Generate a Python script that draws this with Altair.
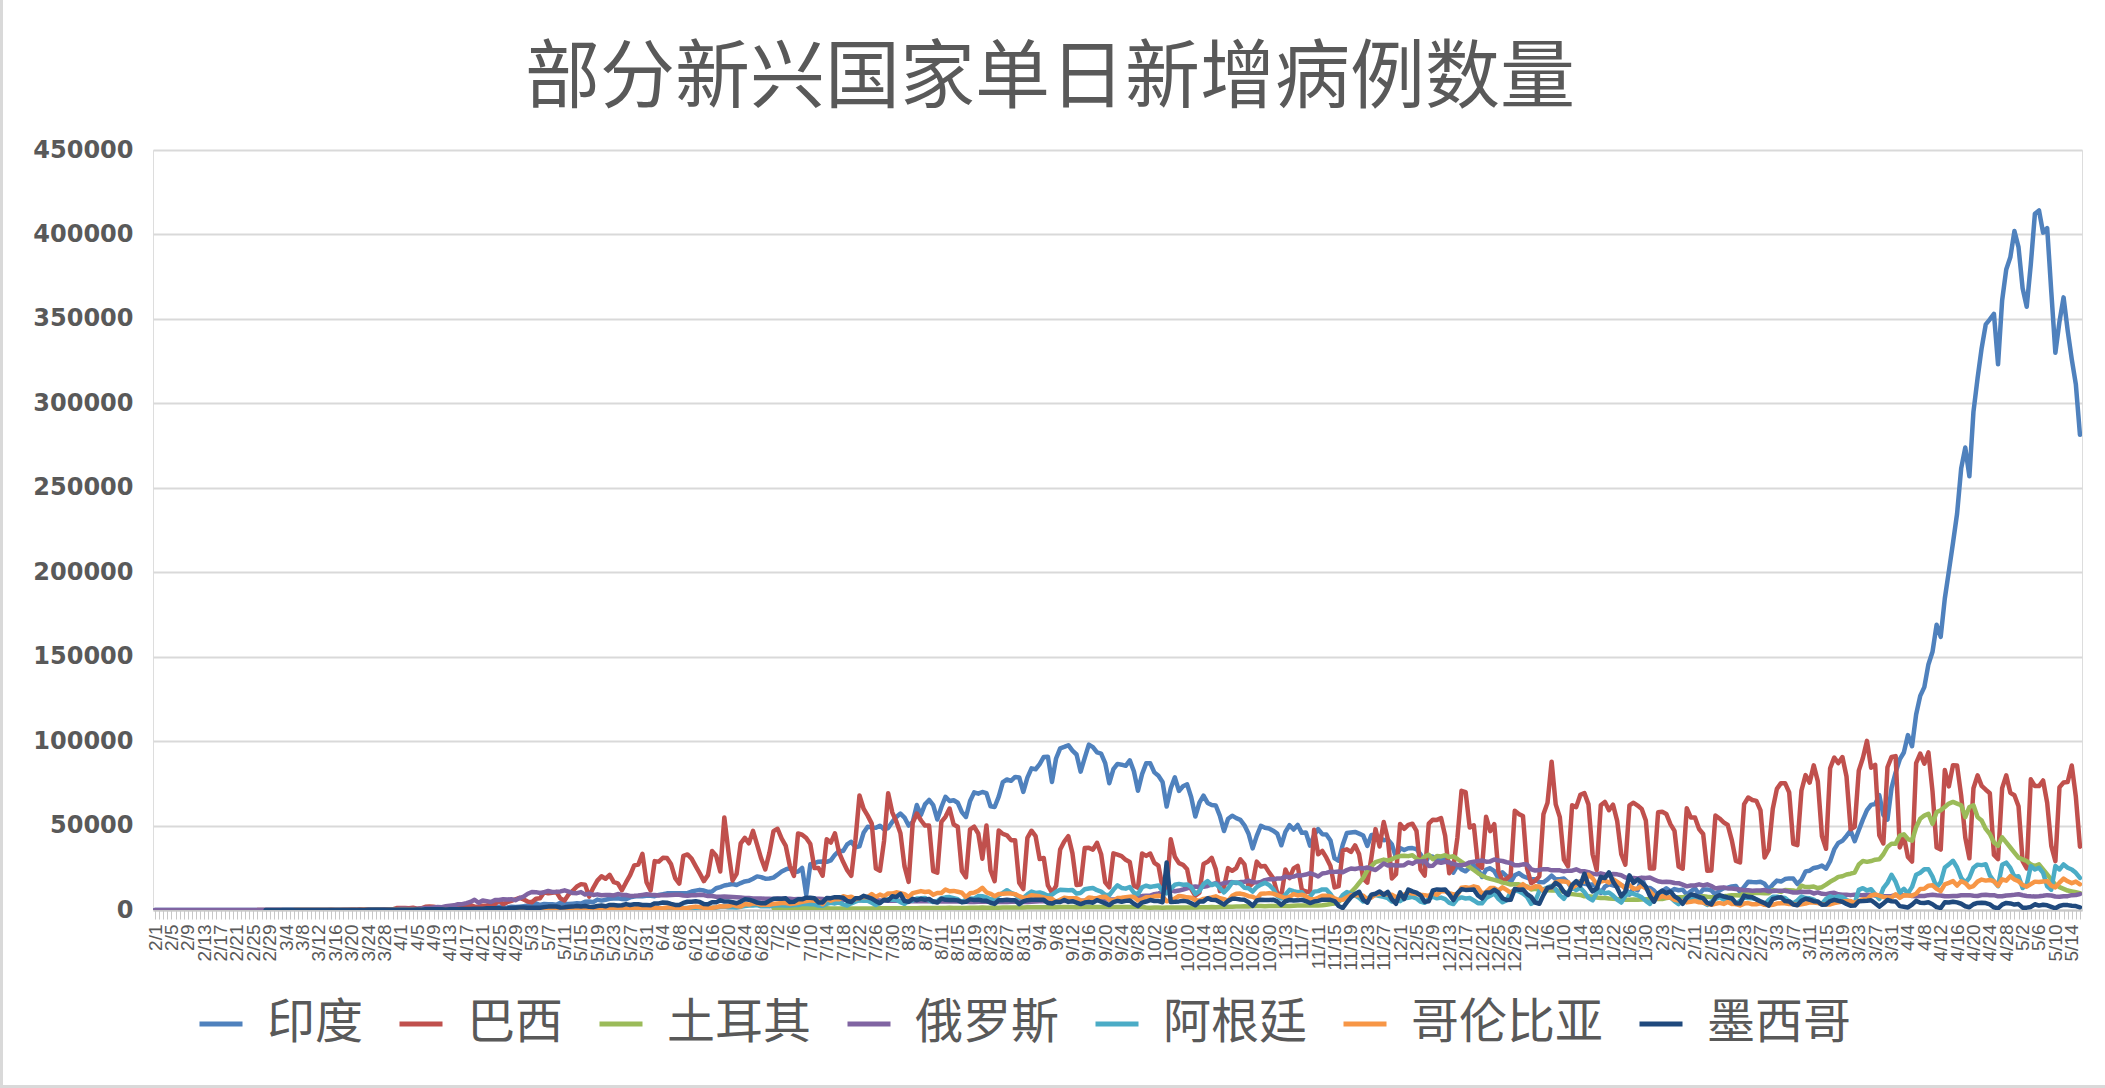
import json
import datetime
import altair as alt
import pandas as pd

# ---------------- data (daily new cases, in thousands) ----------------
# months: 2020-02 .. 2021-05 (May 2021 ends on the 16th); None = series not yet reported
month_lengths = [29, 31, 30, 31, 30, 31, 31, 30, 31, 30, 31, 31, 28, 31, 30, 16]

title_text = "部分新兴国家单日新增病例数量"
countries = ["印度", "巴西", "土耳其", "俄罗斯", "阿根廷", "哥伦比亚", "墨西哥"]
colors = ["#4F81BD", "#C0504D", "#9BBB59", "#8064A2", "#4BACC6", "#F79646", "#1F497D"]

y_ticks = [0, 50000, 100000, 150000, 200000, 250000, 300000, 350000, 400000, 450000]

N = None

india = [
    [0, 0, 0, 0, 0, 0, 0, 0, 0, 0, 0, 0, 0, 0, 0, 0, 0, 0, 0, 0, 0, 0, 0, 0, 0, 0, 0, 0, 0],
    [0, 0, 0.001, 0.001, 0.022, 0.001, 0.003, 0.005, 0.004, 0.019, 0.002, 0.011, 0.007, 0.01, 0.017, 0.004, 0.023, 0.02, 0.023, 0.055, 0.05, 0.074, 0.086, 0.073, 0.086, 0.088, 0.075, 0.15, 0.109, 0.227, 0.146],
    [0.601, 0.545, 0.624, 0.524, 0.489, 0.693, 0.354, 0.773, 0.54, 0.9, 0.909, 0.796, 0.905, 1.463, 1.108, 0.826, 1.076, 1.007, 1.553, 1.336, 1.383, 1.409, 1.684, 1.429, 1.99, 1.396, 1.543, 1.897, 1.718, 1.993],
    [2.293, 2.644, 2.806, 3.932, 2.963, 3.587, 3.364, 3.344, 3.113, 4.353, 3.607, 3.524, 3.763, 3.942, 3.787, 4.864, 5.05, 4.63, 6.147, 5.553, 6.088, 6.654, 6.767, 6.977, 6.535, 6.387, 7.466, 7.964, 8.336, 8.171, 8.392],
    [8.392, 8.171, 8.909, 9.304, 9.851, 9.887, 9.971, 9.983, 9.987, 9.985, 10.956, 11.458, 11.929, 11.502, 10.667, 10.974, 12.881, 13.586, 14.516, 14.933, 15.413, 14.821, 15.968, 16.922, 17.296, 18.552, 19.906, 19.459, 18.522, 18.653],
    [19.148, 20.903, 22.771, 24.015, 24.85, 22.252, 22.752, 24.879, 9.0, 27.114, 27.755, 28.637, 28.701, 28.498, 29.429, 32.695, 34.956, 34.884, 38.902, 40.425, 37.148, 37.724, 45.72, 49.31, 48.916, 48.661, 49.931, 47.704, 48.513, 52.123, 55.079],
    [57.118, 54.735, 50.0, 52.05, 62.17, 56.282, 62.538, 65.156, 62.064, 53.601, 60.963, 67.066, 64.553, 65.002, 63.489, 57.982, 55.079, 64.531, 69.652, 68.898, 69.878, 69.239, 61.408, 60.975, 67.151, 75.76, 77.266, 76.472, 78.761, 78.512, 69.921],
    [78.357, 83.883, 83.341, 86.432, 90.632, 90.802, 75.809, 89.706, 95.735, 96.551, 97.57, 94.372, 92.071, 81.911, 90.123, 97.894, 96.424, 93.337, 92.605, 86.961, 75.083, 83.347, 86.508, 86.052, 85.362, 88.6, 82.17, 70.589, 80.472, 86.821],
    [86.821, 81.484, 79.476, 75.829, 61.267, 72.049, 78.524, 70.496, 73.272, 74.383, 66.732, 55.342, 63.509, 67.708, 63.371, 62.212, 61.871, 55.722, 46.79, 54.044, 55.839, 54.366, 53.37, 50.129, 45.149, 36.469, 43.893, 49.881, 48.648, 48.268, 46.963],
    [45.231, 38.31, 46.253, 50.21, 47.638, 50.357, 45.674, 45.903, 38.073, 44.281, 47.905, 44.879, 44.684, 41.1, 30.548, 29.163, 38.617, 45.576, 45.882, 46.232, 45.209, 44.059, 37.975, 44.376, 44.489, 43.082, 41.322, 41.81, 38.772, 31.118],
    [36.604, 35.551, 36.595, 36.652, 36.011, 32.981, 26.567, 32.08, 31.521, 29.398, 30.006, 30.254, 27.071, 22.065, 26.382, 24.01, 22.89, 25.152, 26.624, 24.337, 19.556, 23.95, 24.712, 23.068, 18.732, 22.273, 20.021, 16.432, 20.55, 21.822, 20.036],
    [19.078, 18.177, 18.177, 16.505, 16.375, 18.088, 20.346, 18.139, 18.222, 18.645, 16.311, 12.584, 15.968, 16.946, 15.59, 15.158, 15.144, 13.788, 10.064, 13.823, 15.223, 14.545, 14.256, 14.849, 13.203, 9.102, 12.689, 11.666, 18.855, 13.083, 13.052],
    [11.427, 8.635, 11.039, 12.899, 11.024, 12.408, 11.713, 12.059, 9.11, 11.067, 12.923, 9.309, 12.143, 12.194, 11.649, 9.121, 11.61, 12.881, 13.193, 13.993, 14.264, 10.584, 13.742, 16.738, 16.577, 16.488, 16.752, 15.51],
    [12.286, 14.989, 17.407, 16.838, 18.327, 18.711, 18.599, 15.388, 17.921, 22.854, 23.285, 24.882, 25.32, 26.291, 24.492, 28.903, 35.871, 39.726, 40.953, 43.846, 46.951, 40.715, 47.262, 53.476, 59.118, 62.258, 62.714, 68.02, 56.211, 53.48, 72.33],
    [81.466, 89.129, 93.249, 103.558, 96.982, 115.736, 126.789, 131.968, 145.384, 152.879, 168.912, 161.736, 184.372, 200.739, 217.353, 234.692, 261.5, 273.81, 256.828, 295.041, 314.835, 332.73, 346.786, 349.691, 352.991, 323.144, 360.96, 379.257, 386.452, 401.993],
    [392.488, 368.147, 357.229, 382.315, 412.262, 414.188, 401.078, 403.738, 366.161, 329.942, 348.421, 362.727, 343.144, 326.098, 311.17, 281.386],
]

brazil = [
    [N, N, N, N, N, N, N, N, N, N, N, N, N, N, N, N, N, N, N, N, N, N, N, N, N, 0.001, 0, 0, 0.001],
    [0.001, 0, 0, 0.001, 0.005, 0.005, 0.006, 0.006, 0.0, 0.009, 0.018, 0.025, 0.021, 0.023, 0.079, 0.034, 0.057, 0.137, 0.193, 0.283, 0.224, 0.418, 0.345, 0.31, 0.232, 0.482, 0.502, 0.487, 0.352, 0.323, 1.138],
    [1.119, 1.208, 1.012, 1.304, 0.77, 1.031, 1.873, 2.136, 1.922, 1.546, 1.089, 1.465, 1.238, 1.832, 3.058, 2.105, 3.257, 2.976, 1.996, 1.927, 2.498, 2.678, 3.735, 3.503, 5.514, 3.379, 4.613, 5.385, 6.276, 7.218],
    [6.209, 4.97, 4.588, 6.633, 6.935, 10.503, 9.888, 10.222, 10.611, 6.76, 5.632, 9.258, 11.385, 13.944, 15.305, 14.919, 7.938, 13.14, 17.408, 19.951, 18.508, 20.803, 16.508, 15.813, 11.687, 16.324, 20.599, 26.417, 26.928, 33.274, 16.409],
    [11.598, 28.936, 28.633, 30.925, 30.83, 27.075, 18.912, 15.654, 32.091, 32.913, 30.412, 25.982, 21.704, 17.11, 20.647, 34.918, 32.188, 22.765, 54.771, 34.666, 17.459, 21.432, 39.436, 42.725, 39.483, 46.86, 38.693, 30.476, 24.052, 33.846],
    [46.712, 48.105, 42.223, 37.923, 26.051, 20.229, 45.305, 44.571, 42.619, 39.023, 24.831, 24.831, 20.286, 41.857, 39.924, 45.403, 34.177, 28.532, 23.529, 20.257, 41.008, 67.86, 59.961, 55.891, 51.147, 24.578, 23.284, 40.816, 69.074, 57.837, 52.383],
    [45.392, 25.8, 16.641, 51.603, 57.152, 53.139, 49.97, 49.97, 23.01, 22.048, 52.16, 55.155, 60.091, 50.644, 49.274, 23.101, 19.373, 47.784, 49.298, 45.323, 30.355, 50.032, 23.421, 17.078, 47.134, 45.079, 44.235, 41.35, 41.35, 16.158, 12.369],
    [42.659, 46.934, 43.773, 30.168, 30.754, 14.521, 10.273, 14.279, 35.816, 40.557, 43.718, 33.523, 14.768, 15.155, 36.653, 36.82, 35.757, 39.797, 33.057, 16.389, 13.439, 33.536, 32.817, 31.911, 29.716, 28.378, 14.318, 13.155, 33.413, 32.058],
    [33.413, 27.95, 26.31, 13.11, 11.946, 41.906, 31.553, 27.75, 26.749, 24.062, 12.342, 8.426, 10.22, 27.235, 28.523, 30.914, 24.062, 11.203, 13.345, 24.818, 23.227, 24.858, 30.026, 26.979, 13.493, 15.726, 28.629, 25.718, 26.101, 22.282, 18.947],
    [10.1, 8.501, 23.976, 18.862, 24.6, 26.1, 12.0, 10.917, 10.554, 47.5, 33.0, 35.0, 31.0, 26.0, 13.371, 14.134, 35.294, 35.918, 34.361, 38.307, 33.0, 18.615, 16.207, 31.1, 47.898, 37.614, 52.1, 42.0, 18.615, 21.138],
    [50.909, 48.025, 50.434, 51.088, 46.884, 24.0, 20.371, 51.088, 53.453, 53.347, 54.428, 43.9, 21.825, 25.193, 42.889, 70.574, 69.826, 48.884, 50.177, 27.0, 25.019, 55.202, 46.696, 50.834, 22.967, 17.341, 18.479, 20.548, 58.718, 56.773, 55.649],
    [24.605, 15.827, 17.341, 20.006, 56.648, 63.504, 87.843, 62.532, 55.0, 29.792, 25.822, 61.963, 60.899, 68.138, 69.198, 62.532, 33.04, 23.671, 62.0, 64.025, 59.119, 62.334, 52.797, 33.04, 26.816, 61.963, 63.52, 61.811, 59.826, 52.979, 24.591],
    [24.591, 57.848, 58.202, 56.873, 50.872, 46.884, 25.759, 24.434, 60.301, 54.742, 54.794, 47.962, 45.003, 23.218, 23.439, 55.993, 54.195, 51.879, 50.335, 41.219, 29.026, 28.147, 62.715, 66.588, 65.169, 64.588, 58.931, 31.11],
    [35.742, 59.925, 71.704, 75.102, 75.102, 69.609, 39.127, 38.396, 70.764, 79.876, 75.412, 85.663, 76.178, 43.812, 36.239, 83.926, 90.303, 86.982, 90.57, 79.069, 47.774, 49.293, 82.493, 89.992, 100.158, 84.245, 85.948, 44.326, 39.433, 84.494, 90.638],
    [91.097, 37.017, 43.515, 31.359, 28.645, 86.979, 92.625, 86.652, 93.317, 70.238, 37.017, 35.785, 82.869, 73.174, 85.774, 85.536, 67.636, 42.937, 30.624, 72.115, 79.719, 73.53, 71.235, 69.105, 32.572, 30.167, 72.148, 79.726, 69.389, 67.936],
    [61.474, 28.935, 24.619, 77.359, 73.38, 73.38, 76.692, 63.43, 37.948, 28.935, 72.715, 75.445, 75.809, 85.536, 67.009, 37.498],
]

turkey = [
    [N, N, N, N, N, N, N, N, N, N, N, N, N, N, N, N, N, N, N, N, N, N, N, N, N, N, N, N, N],
    [N, N, N, N, N, N, N, N, N, N, N, N, N, N, N, N, N, N, N, N, N, N, N, N, N, N, N, N, N, N, N],
    [N, N, N, N, N, N, N, N, N, N, N, N, N, N, N, N, N, N, N, N, N, N, N, N, N, N, N, N, N, N],
    [N, N, N, N, N, N, N, N, N, N, N, N, N, N, N, N, N, N, N, N, N, N, N, N, N, N, N, N, N, N, N],
    [N, N, N, N, N, N, N, N, N, N, N, N, N, N, N, N, N, N, N, N, N, N, N, N, N, N, N, N, N, N],
    [1.217, 1.172, 1.187, 1.224, 1.148, 1.086, 1.041, 1.053, 1.024, 1.016, 1.008, 0.995, 0.992, 0.963, 0.933, 0.926, 0.933, 0.919, 0.917, 0.918, 0.924, 0.929, 0.952, 0.935, 0.955, 0.963, 0.981, 1.006, 0.971, 0.967, 0.987],
    [0.993, 0.972, 0.983, 0.995, 1.083, 1.117, 1.178, 1.192, 1.183, 1.212, 1.243, 1.256, 1.263, 1.234, 1.226, 1.218, 1.191, 1.298, 1.263, 1.311, 1.412, 1.262, 1.309, 1.309, 1.366, 1.502, 1.517, 1.494, 1.509, 1.518, 1.549],
    [1.596, 1.572, 1.596, 1.637, 1.671, 1.643, 1.657, 1.698, 1.745, 1.751, 1.743, 1.754, 1.641, 1.716, 1.743, 1.742, 1.771, 1.786, 1.761, 1.794, 1.766, 1.767, 1.821, 1.795, 1.769, 1.746, 1.772, 1.771, 1.764, 1.494],
    [1.391, 1.412, 1.473, 1.392, 1.417, 1.475, 1.487, 1.522, 1.502, 1.546, 1.488, 1.548, 1.563, 1.582, 1.626, 1.704, 1.698, 1.743, 1.814, 1.852, 1.887, 2.021, 2.042, 2.165, 2.137, 2.198, 2.314, 2.343, 2.227, 2.311, 2.304],
    [2.44, 2.343, 2.391, 2.416, 2.534, 2.62, 2.638, 2.611, 2.673, 2.715, 2.731, 2.789, 3.156, 3.565, 3.857, 4.8, 7.0, 9.0, 10.5, 13.0, 16.0, 19.0, 23.5, 26.0, 28.351, 29.132, 29.845, 29.281, 30.103, 31.219],
    [31.923, 32.137, 31.896, 32.381, 30.424, 29.132, 31.6, 32.736, 30.103, 32.01, 31.7, 32.4, 31.3, 31.8, 30.2, 28.5, 26.9, 25.4, 23.7, 21.9, 20.3, 19.2, 18.4, 17.8, 17.2, 16.2, 15.8, 15.1, 15.3, 15.2, 14.5],
    [14.0, 12.2, 12.5, 11.9, 11.7, 11.7, 11.6, 11.6, 11.2, 10.9, 9.5, 9.4, 9.1, 8.9, 8.1, 8.2, 7.9, 7.4, 7.1, 7.1, 6.8, 6.7, 6.5, 6.4, 6.1, 6.0, 6.2, 6.0, 6.2, 6.3, 6.4],
    [6.2, 6.6, 6.5, 7.1, 7.4, 7.4, 7.5, 7.6, 7.8, 7.6, 7.7, 7.9, 8.2, 7.8, 7.6, 7.7, 8.0, 8.2, 8.4, 8.8, 8.7, 8.6, 9.9, 9.9, 10.0, 10.0, 10.0, 9.9],
    [9.9, 11.8, 11.3, 10.7, 11.8, 11.7, 11.6, 11.0, 14.4, 13.6, 13.6, 13.9, 13.0, 13.5, 15.0, 16.7, 18.0, 19.6, 20.0, 21.0, 21.5, 22.2, 27.0, 29.0, 28.5, 29.0, 29.8, 30.0, 33.0, 37.3, 39.3],
    [39.3, 44.0, 44.8, 42.0, 41.0, 49.0, 54.0, 55.9, 57.0, 51.0, 58.0, 59.0, 61.0, 63.0, 64.0, 63.0, 62.0, 55.0, 61.0, 62.0, 55.0, 53.0, 48.0, 45.0, 40.0, 38.0, 43.0, 40.0, 37.0, 34.0],
    [31.0, 30.0, 29.0, 27.0, 26.0, 27.0, 24.0, 21.0, 18.0, 15.0, 13.5, 12.5, 11.5, 11.0, 10.5, 10.0],
]

russia = [
    [0, 0, 0, 0, 0, 0, 0, 0, 0, 0, 0, 0, 0, 0, 0, 0, 0, 0, 0, 0, 0, 0, 0, 0, 0, 0, 0, 0, 0],
    [0, 0, 0.001, 0, 0.001, 0.006, 0, 0.003, 0.0, 0.003, 0.008, 0.006, 0.014, 0.011, 0.004, 0.029, 0.021, 0.033, 0.052, 0.054, 0.053, 0.061, 0.071, 0.057, 0.163, 0.182, 0.196, 0.228, 0.27, 0.302, 0.5],
    [0.771, 0.771, 0.601, 0.582, 0.658, 0.954, 1.154, 1.175, 1.459, 1.786, 1.667, 2.186, 2.558, 2.774, 3.388, 3.448, 4.07, 4.785, 6.06, 4.268, 5.642, 5.236, 4.774, 5.849, 5.966, 6.361, 6.198, 6.411, 5.841, 7.099],
    [7.933, 9.623, 10.633, 10.581, 10.102, 10.559, 11.231, 10.699, 10.817, 11.012, 11.656, 10.899, 10.028, 9.974, 10.598, 9.2, 9.709, 8.926, 9.263, 8.764, 8.849, 8.894, 8.599, 9.434, 8.946, 8.915, 8.338, 8.371, 8.572, 8.952, 9.268],
    [9.035, 8.863, 8.536, 8.831, 8.726, 8.855, 8.984, 8.985, 8.595, 8.404, 8.779, 8.706, 8.987, 8.835, 8.246, 8.248, 7.843, 7.79, 7.972, 7.889, 7.728, 7.6, 7.425, 7.176, 7.113, 6.8, 6.852, 6.791, 6.693, 6.719],
    [6.556, 6.76, 6.718, 6.736, 6.611, 6.368, 6.562, 6.509, 6.635, 6.635, 6.611, 6.615, 6.537, 6.248, 6.422, 6.428, 6.406, 6.109, 6.17, 6.065, 5.842, 5.862, 5.811, 5.848, 5.871, 5.765, 5.635, 5.475, 5.509, 5.482, 5.462],
    [5.427, 5.462, 5.159, 5.204, 5.267, 5.241, 5.212, 5.189, 5.118, 5.102, 5.0, 5.102, 5.057, 5.065, 5.061, 4.969, 4.839, 4.748, 4.79, 4.828, 4.87, 4.921, 4.852, 4.676, 4.696, 4.711, 4.676, 4.829, 4.993, 4.897, 4.729],
    [4.729, 4.952, 5.015, 5.11, 5.205, 5.195, 5.185, 5.099, 5.363, 5.4, 5.449, 5.406, 5.488, 5.509, 5.529, 5.67, 5.762, 5.905, 6.065, 6.148, 6.196, 6.215, 6.431, 6.595, 7.212, 7.523, 7.867, 8.135, 8.232, 8.481],
    [8.485, 9.412, 9.859, 10.499, 10.888, 11.615, 11.115, 11.493, 12.126, 12.846, 13.634, 13.868, 13.592, 13.754, 14.231, 15.15, 15.982, 15.099, 15.982, 16.319, 16.521, 15.971, 16.521, 16.71, 17.347, 16.55, 16.202, 16.541, 17.717, 18.283, 18.14],
    [18.665, 18.648, 19.768, 19.404, 19.768, 20.582, 20.498, 20.977, 21.798, 20.977, 19.851, 21.608, 21.983, 22.702, 22.572, 22.778, 22.41, 23.61, 24.581, 24.318, 24.822, 24.581, 25.173, 24.326, 23.675, 25.487, 27.543, 26.338, 26.683, 26.402],
    [26.402, 26.539, 28.145, 27.403, 28.782, 28.782, 29.039, 26.097, 26.19, 28.585, 27.927, 28.585, 28.137, 27.328, 26.689, 26.509, 27.039, 28.209, 28.552, 28.948, 29.35, 28.592, 28.776, 29.935, 29.258, 29.018, 28.284, 27.787, 26.513, 26.513, 27.039],
    [27.0, 24.1, 23.4, 23.7, 24.2, 24.2, 23.5, 23.6, 23.5, 22.9, 23.3, 23.3, 24.1, 23.0, 22.9, 22.4, 21.4, 21.1, 21.7, 21.1, 20.6, 21.3, 21.1, 20.6, 19.3, 18.4, 19.0, 18.7, 19.1, 19.0, 19.2],
    [18.1, 17.0, 16.6, 16.7, 16.6, 16.0, 15.9, 15.0, 14.0, 14.5, 14.5, 15.2, 14.5, 15.2, 14.2, 12.8, 13.2, 13.4, 12.8, 12.7, 12.4, 12.1, 11.7, 11.7, 11.4, 11.5, 11.5, 11.8],
    [11.1, 11.2, 11.4, 11.4, 11.4, 10.9, 10.4, 10.4, 10.8, 10.7, 10.8, 9.8, 10.4, 9.6, 9.4, 9.9, 10.2, 9.3, 9.1, 9.1, 8.8, 9.1, 8.9, 8.8, 9.1, 9.1, 8.5, 8.6, 8.3, 8.2, 8.3],
    [8.7, 8.7, 8.8, 9.0, 8.3, 8.2, 8.3, 8.3, 8.8, 9.0, 8.7, 8.6, 8.1, 8.2, 8.3, 8.3, 8.7, 8.7, 8.8, 8.5, 8.3, 8.9, 9.0, 8.7, 8.8, 8.1, 8.1, 8.6, 8.8, 9.0],
    [9.3, 8.7, 8.3, 8.1, 8.0, 8.1, 8.4, 8.8, 8.6, 8.0, 7.9, 8.2, 8.2, 8.8, 8.9, 9.4],
]

argentina = [
    [N, N, N, N, N, N, N, N, N, N, N, N, N, N, N, N, N, N, N, N, N, N, N, N, N, N, N, N, N],
    [N, N, 0.001, 0, 0.001, 0.006, 0.002, 0.003, 0.005, 0.002, 0.002, 0.012, 0.003, 0.011, 0.011, 0.009, 0.014, 0.018, 0.031, 0.031, 0.067, 0.041, 0.036, 0.035, 0.086, 0.087, 0.101, 0.055, 0.075, 0.146, 0.064],
    [0.088, 0.078, 0.132, 0.088, 0.098, 0.074, 0.104, 0.074, 0.099, 0.081, 0.085, 0.068, 0.092, 0.08, 0.131, 0.105, 0.136, 0.09, 0.107, 0.046, 0.113, 0.144, 0.11, 0.172, 0.111, 0.123, 0.113, 0.124, 0.158, 0.143],
    [0.113, 0.111, 0.144, 0.164, 0.163, 0.206, 0.24, 0.24, 0.164, 0.165, 0.259, 0.316, 0.345, 0.316, 0.255, 0.308, 0.314, 0.3, 0.46, 0.474, 0.438, 0.483, 0.718, 0.704, 0.535, 0.6, 0.601, 0.795, 0.6, 0.648, 0.705],
    [0.564, 0.904, 0.949, 0.929, 0.84, 0.983, 0.71, 0.826, 1.141, 1.226, 1.391, 1.386, 1.531, 0.95, 1.282, 1.393, 1.374, 1.958, 2.06, 1.634, 1.581, 1.513, 1.846, 2.285, 2.606, 2.635, 2.886, 2.189, 2.262, 2.146],
    [2.667, 2.744, 2.845, 2.595, 2.632, 2.979, 2.979, 3.604, 3.663, 3.449, 3.416, 2.657, 2.554, 3.645, 4.25, 3.884, 4.518, 3.326, 2.657, 3.937, 4.89, 5.782, 5.493, 5.519, 4.303, 2.998, 4.142, 5.93, 6.377, 6.134, 5.929],
    [4.688, 3.642, 5.376, 5.641, 6.792, 6.902, 7.147, 5.641, 4.717, 5.271, 7.043, 7.498, 7.663, 7.0, 6.365, 4.712, 6.127, 6.84, 6.693, 8.225, 8.159, 7.498, 6.27, 6.591, 8.713, 10.104, 11.717, 10.104, 9.23, 7.187, 7.187],
    [9.23, 10.933, 10.102, 10.355, 9.615, 8.43, 8.993, 10.776, 11.964, 11.905, 11.735, 11.84, 9.724, 10.104, 12.259, 12.701, 13.05, 11.717, 10.865, 9.056, 8.782, 11.98, 14.605, 13.051, 12.649, 13.628, 10.188, 9.351, 13.467, 14.392],
    [13.615, 14.115, 14.533, 11.245, 9.877, 12.555, 14.931, 15.454, 14.981, 15.11, 13.532, 9.524, 11.187, 15.29, 17.096, 14.798, 15.596, 12.982, 10.412, 12.904, 16.338, 16.325, 15.57, 13.159, 12.851, 10.92, 13.569, 15.022, 16.065, 14.821, 12.444],
    [8.225, 6.81, 9.021, 11.907, 11.117, 10.599, 10.542, 7.343, 7.905, 10.889, 11.172, 12.175, 12.075, 9.407, 5.914, 5.311, 8.845, 10.647, 9.382, 8.711, 7.17, 5.014, 6.327, 8.911, 8.787, 8.302, 7.846, 7.021, 5.041, 5.728],
    [5.257, 7.02, 7.297, 7.803, 6.799, 4.952, 4.249, 6.736, 7.916, 6.899, 7.341, 6.4, 4.226, 3.558, 6.608, 7.449, 6.838, 7.083, 5.64, 4.013, 3.994, 7.105, 8.378, 9.793, 6.633, 4.566, 5.801, 10.5, 11.633, 11.074, 9.727],
    [7.803, 3.645, 5.305, 11.227, 12.286, 13.321, 14.25, 12.358, 8.769, 6.62, 10.484, 13.338, 11.78, 13.113, 10.659, 7.181, 5.7, 10.088, 11.095, 9.95, 10.332, 8.521, 6.181, 4.422, 8.493, 10.073, 9.562, 8.707, 7.476, 5.41, 3.625],
    [8.069, 8.606, 8.465, 8.359, 7.535, 5.227, 3.478, 5.596, 7.38, 7.219, 6.805, 6.209, 4.403, 3.02, 4.889, 6.614, 7.659, 6.12, 6.036, 4.519, 3.624, 5.381, 7.41, 7.089, 6.988, 6.441, 4.755, 3.265],
    [5.905, 7.801, 7.817, 7.366, 7.052, 5.205, 3.867, 5.514, 8.006, 7.072, 6.889, 6.15, 4.321, 3.59, 6.62, 8.051, 7.337, 8.079, 7.647, 6.006, 4.698, 3.85, 11.904, 12.936, 11.563, 12.303, 9.286, 6.438, 12.936, 16.056, 20.87],
    [16.6, 10.265, 12.557, 9.841, 13.667, 20.87, 22.039, 24.13, 24.13, 19.745, 13.469, 16.416, 25.157, 27.001, 29.145, 25.157, 19.04, 16.138, 19.117, 25.031, 26.865, 26.578, 27.1, 20.462, 17.013, 14.114, 26.758, 28.033, 24.928, 19.738],
    [20.0, 13.0, 15.0, 26.0, 24.0, 25.0, 22.0, 14.0, 12.0, 26.0, 24.0, 27.0, 25.0, 24.0, 22.0, 19.0],
]

colombia = [
    [N, N, N, N, N, N, N, N, N, N, N, N, N, N, N, N, N, N, N, N, N, N, N, N, N, N, N, N, N],
    [N, N, N, N, N, 0.001, 0, 0, 0.002, 0, 0.006, 0.007, 0.006, 0.008, 0.009, 0.011, 0.033, 0.027, 0.035, 0.025, 0.049, 0.035, 0.075, 0.047, 0.072, 0.021, 0.07, 0.063, 0.094, 0.096, 0.108],
    [0.1, 0.1, 0.1, 0.1, 0.1, 0.07, 0.1, 0.2, 0.2, 0.1, 0.1, 0.1, 0.1, 0.1, 0.1, 0.1, 0.2, 0.2, 0.1, 0.2, 0.2, 0.2, 0.3, 0.2, 0.2, 0.2, 0.2, 0.3, 0.2, 0.4],
    [0.3, 0.3, 0.4, 0.3, 0.4, 0.5, 0.5, 0.5, 0.6, 0.4, 0.6, 0.4, 0.5, 0.4, 0.5, 0.4, 0.5, 0.6, 0.6, 0.6, 0.7, 0.8, 0.9, 0.6, 0.9, 0.9, 0.7, 0.8, 1.2, 0.8, 0.8],
    [0.9, 1.3, 1.1, 1.1, 1.5, 1.5, 1.3, 1.1, 1.1, 1.2, 1.6, 2.0, 1.8, 1.3, 1.2, 1.3, 1.6, 2.2, 2.1, 2.2, 3.0, 2.4, 2.0, 3.5, 3.2, 3.9, 3.8, 3.0, 3.3, 3.1],
    [3.6, 3.9, 4.1, 4.1, 3.6, 3.8, 4.3, 4.8, 5.3, 5.8, 5.5, 5.3, 3.5, 6.8, 5.5, 6.4, 6.3, 8.2, 7.4, 7.9, 6.4, 7.0, 7.9, 7.6, 9.4, 7.7, 9.1, 8.1, 9.8, 9.7, 10.5],
    [10.0, 9.4, 7.6, 10.0, 10.6, 11.2, 10.7, 11.0, 9.0, 10.1, 10.1, 12.1, 11.1, 11.3, 10.8, 10.2, 7.6, 9.9, 10.3, 11.3, 13.1, 10.5, 9.6, 8.2, 9.5, 9.6, 9.8, 9.7, 9.4, 8.2, 7.2],
    [7.4, 8.7, 8.5, 8.1, 7.5, 6.9, 6.6, 4.9, 6.1, 7.3, 7.0, 6.9, 6.9, 5.6, 5.5, 7.4, 7.1, 7.0, 7.7, 7.9, 6.1, 5.5, 7.1, 7.3, 7.6, 7.9, 7.7, 5.6, 6.2, 7.6],
    [7.5, 8.1, 8.4, 7.9, 5.2, 5.8, 6.8, 8.3, 8.0, 7.5, 7.2, 5.9, 5.4, 6.6, 7.0, 7.5, 8.1, 7.0, 6.4, 5.4, 8.4, 9.6, 9.7, 9.2, 8.2, 7.9, 6.7, 9.6, 9.7, 10.0, 9.7],
    [8.8, 7.9, 7.0, 7.8, 9.4, 8.6, 9.1, 8.2, 6.3, 6.3, 7.2, 8.4, 8.4, 8.2, 7.0, 5.9, 6.1, 7.5, 8.9, 8.8, 8.9, 8.5, 6.3, 7.4, 9.2, 9.6, 9.6, 9.2, 9.0, 7.6],
    [8.1, 9.1, 10.3, 9.7, 9.6, 9.0, 8.8, 8.3, 9.9, 9.0, 11.2, 11.1, 10.0, 9.3, 9.0, 13.2, 13.5, 13.1, 14.0, 13.4, 9.6, 10.7, 13.0, 13.0, 11.5, 13.4, 11.9, 10.2, 11.9, 13.3, 15.3],
    [13.4, 12.8, 14.1, 13.9, 11.2, 12.9, 13.2, 16.5, 17.0, 16.9, 16.5, 13.3, 14.8, 16.9, 16.8, 20.9, 18.8, 15.3, 16.9, 17.5, 16.2, 18.3, 16.7, 14.9, 12.6, 14.7, 12.6, 12.8, 14.3, 12.8, 11.0],
    [8.6, 6.9, 8.3, 7.4, 7.5, 6.0, 5.6, 5.2, 4.5, 4.9, 5.3, 4.6, 4.4, 3.6, 3.1, 3.6, 4.2, 3.6, 4.8, 3.6, 3.5, 2.7, 3.8, 4.1, 3.4, 3.4, 3.9, 3.1],
    [2.8, 3.1, 3.8, 4.0, 4.0, 3.5, 3.5, 3.0, 3.4, 3.8, 4.5, 4.4, 4.2, 3.4, 3.3, 3.3, 4.1, 4.6, 5.0, 5.2, 5.3, 4.1, 5.3, 6.3, 6.3, 8.6, 9.2, 8.5, 7.7, 7.4, 7.4],
    [9.3, 7.2, 8.7, 8.6, 8.5, 9.6, 12.5, 12.6, 14.4, 14.6, 12.5, 11.2, 15.2, 16.1, 17.1, 14.5, 17.0, 16.0, 13.4, 14.2, 16.8, 18.0, 17.4, 17.8, 17.0, 14.4, 18.2, 17.4, 20.0, 18.1],
    [17.0, 14.8, 13.8, 15.3, 16.8, 16.6, 16.9, 17.1, 14.4, 13.4, 16.2, 18.6, 17.0, 15.9, 16.8, 15.2],
]

mexico = [
    [N, N, N, N, N, N, N, N, N, N, N, N, N, N, N, N, N, N, N, N, N, N, N, N, N, N, N, 0.001, 0.003],
    [0, 0, 0, 0, 0, 0, 0, 0, 0, 0, 0, 0, 0, 0, 0.01, 0.02, 0.03, 0.03, 0.02, 0.04, 0.05, 0.06, 0.05, 0.1, 0.1, 0.1, 0.2, 0.15, 0.1, 0.1, 0.2],
    [0.2, 0.1, 0.2, 0.2, 0.3, 0.2, 0.4, 0.4, 0.5, 0.4, 0.4, 0.3, 0.4, 0.4, 0.5, 0.6, 0.6, 0.6, 0.8, 0.8, 0.8, 1.0, 1.0, 1.1, 1.0, 0.8, 0.9, 1.2, 1.4, 1.5],
    [1.5, 1.3, 1.4, 1.4, 1.3, 1.7, 2.0, 2.0, 2.1, 1.5, 1.6, 1.9, 2.0, 2.4, 2.1, 2.4, 1.9, 1.8, 2.4, 2.7, 2.2, 3.0, 2.9, 2.7, 2.8, 3.5, 3.0, 3.4, 3.4, 3.0, 2.9],
    [2.8, 3.9, 3.9, 4.4, 4.3, 3.6, 3.0, 2.9, 4.2, 4.9, 4.9, 5.2, 4.8, 3.5, 3.4, 4.6, 4.6, 5.7, 5.0, 5.0, 4.6, 4.0, 5.0, 6.3, 6.1, 5.4, 4.4, 4.0, 4.0, 5.4],
    [6.7, 6.7, 6.7, 6.9, 4.7, 4.9, 6.3, 6.3, 7.3, 7.2, 6.9, 4.5, 4.5, 7.1, 7.0, 7.6, 7.6, 7.2, 5.3, 4.7, 6.9, 6.9, 8.4, 7.6, 6.8, 5.2, 4.1, 6.1, 5.6, 8.1, 7.7],
    [9.6, 5.3, 4.8, 6.6, 5.8, 6.6, 6.1, 6.5, 5.0, 4.4, 6.7, 6.0, 5.9, 5.9, 5.7, 4.6, 4.9, 6.3, 5.9, 6.1, 5.6, 5.5, 4.3, 3.6, 5.8, 5.8, 6.1, 5.8, 5.8, 3.5, 5.1],
    [5.8, 6.0, 6.1, 6.0, 6.0, 4.1, 3.8, 4.9, 4.7, 5.9, 4.8, 5.2, 4.4, 3.5, 4.4, 4.7, 4.3, 5.9, 4.9, 3.9, 2.9, 4.7, 5.4, 4.9, 5.4, 5.6, 3.7, 2.3, 4.4, 5.0],
    [5.9, 5.3, 5.3, 4.6, 28.1, 4.8, 4.9, 5.1, 5.4, 5.1, 4.0, 2.8, 5.0, 5.1, 7.0, 6.0, 5.9, 4.6, 3.2, 5.4, 6.6, 6.6, 6.2, 6.0, 4.6, 2.5, 5.6, 6.1, 5.9, 5.9, 6.1],
    [5.1, 3.0, 5.2, 5.9, 5.6, 5.7, 6.0, 5.3, 4.1, 5.0, 5.4, 6.1, 6.0, 6.0, 5.3, 2.4, 1.2, 4.5, 7.5, 9.5, 10.8, 6.0, 4.3, 9.0, 9.6, 11.0, 9.0, 10.7, 6.3, 3.7],
    [10.4, 6.4, 12.1, 11.0, 10.3, 8.7, 4.8, 5.2, 11.6, 12.2, 12.0, 12.1, 9.3, 5.9, 10.0, 12.3, 11.9, 12.0, 12.1, 8.6, 6.9, 10.4, 10.3, 12.0, 10.4, 7.0, 5.9, 6.0, 12.4, 12.0, 12.2],
    [9.4, 7.8, 4.4, 3.7, 8.8, 13.1, 13.5, 16.1, 14.4, 10.7, 8.9, 14.9, 17.1, 14.5, 21.4, 14.6, 11.0, 12.6, 19.6, 18.9, 22.3, 16.9, 13.1, 8.1, 10.9, 20.5, 16.1, 18.1, 16.3, 13.9, 8.4],
    [4.9, 9.8, 11.5, 10.0, 11.0, 8.1, 6.6, 3.7, 7.3, 9.2, 8.7, 7.7, 7.0, 4.2, 3.3, 7.5, 8.8, 8.0, 7.4, 7.0, 4.0, 3.9, 8.5, 7.8, 7.5, 6.2, 5.1, 4.1],
    [2.6, 6.5, 7.2, 7.6, 5.3, 5.1, 3.2, 2.8, 5.5, 6.7, 6.1, 5.2, 5.0, 3.1, 3.3, 5.3, 6.0, 5.5, 4.9, 3.6, 2.5, 2.6, 5.2, 5.3, 5.5, 5.8, 4.0, 2.0, 3.9, 5.9, 5.2],
    [5.1, 2.3, 1.9, 1.5, 3.2, 5.4, 4.3, 4.2, 4.6, 3.4, 1.7, 1.2, 4.6, 4.4, 4.9, 4.5, 3.7, 2.2, 1.6, 3.4, 4.2, 4.3, 4.1, 3.3, 1.6, 1.0, 3.2, 4.2, 3.9, 3.2],
    [3.5, 1.4, 1.4, 1.8, 3.4, 2.6, 3.1, 2.8, 1.9, 1.0, 2.4, 3.0, 2.9, 2.5, 2.3, 1.6],
]

series = [india, brazil, turkey, russia, argentina, colombia, mexico]

# ---------------- build table ----------------
month_start = []
acc = 0
for n in month_lengths:
    month_start.append(acc)
    acc += n
n_days = acc  # 471

rows = []
for name, months in zip(countries, series):
    for m, vals in enumerate(months):
        for i, v in enumerate(vals[: month_lengths[m]]):
            if v is None:
                continue
            rows.append({"idx": month_start[m] + i, "country": name, "value": v * 1000})
df = pd.DataFrame(rows)

# category labels (every 4th day shown, as in the source axis)
day0 = datetime.date(2020, 2, 1)
all_labels = []
for i in range(n_days):
    d = day0 + datetime.timedelta(days=i)
    all_labels.append(f"{d.month}/{d.day}" if i % 4 == 0 else "")
label_expr = json.dumps(all_labels) + "[datum.value]"

GRAY_TXT = "#595959"
PLOT_W, PLOT_H = 1929, 760

lines = (
    alt.Chart(df)
    .mark_line(strokeWidth=4.5, strokeCap="round", strokeJoin="round", clip=True)
    .encode(
        x=alt.X(
            "idx:Q",
            scale=alt.Scale(domain=[-0.5, n_days - 0.5], nice=False, zero=False),
            axis=alt.Axis(
                values=list(range(n_days)),
                labelExpr=label_expr,
                labelAngle=-90,
                labelOverlap=False,
                labelFont="Liberation Sans",
                labelFontSize=19,
                labelColor=GRAY_TXT,
                labelPadding=5,
                tickSize=9,
                tickColor="#C8C8C8",
                tickWidth=1,
                domainColor="#C8C8C8",
                domainWidth=2,
                grid=False,
                title=None,
            ),
        ),
        y=alt.Y(
            "value:Q",
            scale=alt.Scale(domain=[0, 450000], nice=False),
            axis=alt.Axis(
                values=y_ticks,
                format="d",
                labelFont="DejaVu Sans",
                labelFontWeight="bold",
                labelFontSize=24,
                labelColor=GRAY_TXT,
                labelPadding=20,
                ticks=False,
                domain=False,
                gridColor="#D9D9D9",
                gridWidth=2,
                title=None,
            ),
        ),
        color=alt.Color(
            "country:N",
            sort=countries,
            scale=alt.Scale(domain=countries, range=colors),
            legend=alt.Legend(
                title=None,
                orient="none",
                legendX=44,
                legendY=850,
                direction="horizontal",
                columns=7,
                symbolType="stroke",
                symbolStrokeWidth=5,
                symbolSize=1849,
                labelFont="Noto Sans CJK SC",
                labelFontSize=48,
                labelColor=GRAY_TXT,
                labelOffset=22,
                columnPadding=25,
                labelLimit=600,
            ),
        ),
    )
)

one_row = pd.DataFrame({"k": [0]})

# chart title (drawn as a text mark so the decorative frame does not push it away)
title_mark = alt.Chart(one_row).mark_text(
    font="Noto Sans CJK SC",
    fontSize=75,
    fontWeight="normal",
    color=GRAY_TXT,
    align="center",
    baseline="middle",
    clip=False,
).encode(x=alt.value(897), y=alt.value(-71), text=alt.value(title_text))

# chart-area frame (left and bottom edges, as in the source picture)
frame_left = alt.Chart(one_row).mark_rule(color="#D9D9D9", strokeWidth=3).encode(
    x=alt.value(-151.5), y=alt.value(-150), y2=alt.value(938)
)
frame_bottom = alt.Chart(one_row).mark_rule(color="#D9D9D9", strokeWidth=3).encode(
    x=alt.value(-153), x2=alt.value(1952), y=alt.value(936.5)
)

chart = (
    alt.layer(lines, title_mark, frame_left, frame_bottom)
    .properties(
        width=PLOT_W,
        height=PLOT_H,
        padding={"left": 153, "top": 150, "right": 23, "bottom": 178},
        autosize=alt.AutoSizeParams(type="none"),
    )
    .configure_view(stroke=None)
    .configure(background="white")
)

chart.save("out.html", embed_options={"renderer": "svg", "actions": False})
